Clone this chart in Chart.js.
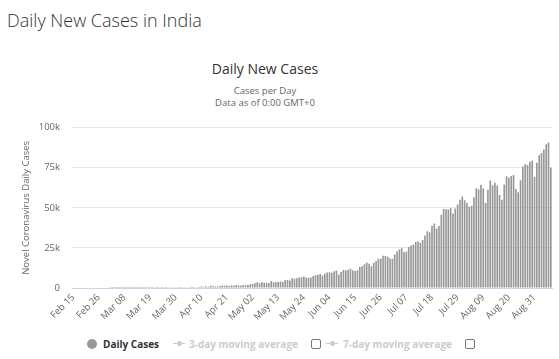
<!DOCTYPE html>
<html>
<head>
<meta charset="utf-8">
<script src="https://cdn.jsdelivr.net/npm/chart.js@4"></script>
<style>
  body { margin: 0; background: #fff; }
  #page { position: relative; width: 559px; height: 359px; overflow: hidden; font-family: 'Open Sans', sans-serif; }
  .abs { position: absolute; white-space: nowrap; }
  .lg { position: absolute; top: 337px; font-size: 10px; font-weight: bold; line-height: 14px; color: #ccc; }
  .box { position: absolute; top: 339px; width: 8px; height: 8px; border: 1px solid #777; border-radius: 2px; }
  .ico { position: absolute; top: 343px; width: 12px; height: 1px; background: #ccc; }
  .ico:after { content: ''; position: absolute; left: 4px; top: -2px; width: 5px; height: 5px; border-radius: 50%; background: #ccc; }
</style>
</head>
<body>
<div id="page">
  <div class="abs" style="left:7px;top:8px;font-size:18px;font-weight:300;line-height:24px;color:#333">Daily New Cases in India</div>
  <div class="abs" style="left:0;width:530px;top:60px;text-align:center;font-size:14px;line-height:18px;color:#333">Daily New Cases</div>
  <div class="abs" style="left:0;width:530px;top:85px;text-align:center;font-size:9.5px;line-height:12px;color:#666">Cases per Day<br>Data as of 0:00 GMT+0</div>
  <div class="abs" style="left:0;top:110px;width:559px;height:225px"><canvas id="chart"></canvas></div>

  <div class="abs" style="left:87px;top:339px;width:10px;height:10px;border-radius:50%;background:#999"></div>
  <div class="lg" style="left:103px;color:#333">Daily Cases</div>
  <div class="ico" style="left:173px"></div>
  <div class="lg" style="left:189px">3-day moving average</div>
  <div class="box" style="left:311px"></div>
  <div class="ico" style="left:326px"></div>
  <div class="lg" style="left:343px">7-day moving average</div>
  <div class="box" style="left:465px"></div>
</div>
<script>
// Feb 15 .. Mar 1: no cases
const febCases = [0,0,0,0,0,0,0,0,0,0,0,0,0,0,0,0];
const marCases = [2,1,23,2,1,3,5,4,12,11,6,9,20,11,6,23,14,38,50,86,66,103,37,121,70,160,100,106,227,146];
const aprCases = [601,545,478,525,505,704,508,485,591,896,768,918,796,1463,1076,1007,991,1224,1553,1336,1540,1290,1667,1408,1835,1607,1561,1873,1738,1801];
const mayCases = [2396,2564,2952,3656,2971,3602,3344,3339,3175,4311,3592,3562,3726,3991,3808,4794,5050,4628,6154,5720,6023,6536,6667,7111,6414,6387,6568,7468,8105,8336,8782];
const junCases = [7761,8821,9633,9847,9472,10408,10882,8442,9987,11156,11128,11320,12023,11027,10667,11088,13108,13586,14740,15918,15151,13560,15656,16868,18205,18255,20131,19906,19459,18339];
const julCases = [18256,20903,22721,24018,24850,22252,22560,25571,26506,27114,28637,29106,28178,29917,32682,35468,34820,38902,40243,37148,38740,45720,49310,49131,48893,49981,46484,49632,52123,55078,57118];
const augCases = [54735,52972,50629,51282,56626,62170,61537,64399,62117,53016,61252,67066,64142,65609,63986,57981,55018,64572,69672,68900,69878,70488,61749,59696,67151,75760,77266,76665,78761,79457,69239];
const sepCases = [78169,82860,84156,86432,89706,90802,75022];

const dailyCases = [].concat(febCases, marCases, aprCases, mayCases, junCases, julCases, augCases, sepCases);

const tickLabels = ['Feb 15','Feb 26','Mar 08','Mar 19','Mar 30','Apr 10','Apr 21','May 02','May 13','May 24',
                    'Jun 04','Jun 15','Jun 26','Jul 07','Jul 18','Jul 29','Aug 09','Aug 20','Aug 31'];
const yTicks = [0, 25000, 50000, 75000, 100000];

// one category per day, Feb 15 2020 onward
const months = ['Jan','Feb','Mar','Apr','May','Jun','Jul','Aug','Sep','Oct','Nov','Dec'];
const days = [];
for (let i = 0; i < dailyCases.length; i++) {
    const d = new Date(Date.UTC(2020, 1, 15 + i));
    days.push(months[d.getUTCMonth()] + ' ' + String(d.getUTCDate()).padStart(2, '0'));
}

const ctx = document.getElementById('chart').getContext('2d');
const myBarChart = new Chart(ctx, {
    type: 'bar',
    data: {
        labels: days,
        datasets: [{
            label: 'Daily Cases',
            data: dailyCases,
            backgroundColor: '#979797',
            barPercentage: 0.9,
            categoryPercentage: 0.78
        }]
    },
    options: {
        responsive: true,
        maintainAspectRatio: false,
        animation: false,
        layout: { padding: { right: 7 } },
        plugins: {
            legend: { display: false },
            tooltip: { enabled: false }
        },
        scales: {
            x: {
                grid: { display: false, drawTicks: false },
                border: { color: '#ccd6eb' },
                ticks: {
                    autoSkip: false,
                    maxRotation: 45,
                    minRotation: 45,
                    padding: 4,
                    color: '#666',
                    font: { family: 'Open Sans', size: 9.5 },
                    callback: function (v, i) {
                        return i % 11 === 0 ? tickLabels[i / 11] : null;
                    }
                },
                afterFit: function (s) { s.height = 47; }
            },
            y: {
                min: 0,
                max: 100000,
                afterBuildTicks: function (s) { s.ticks = yTicks.map(v => ({ value: v })); },
                grid: { color: '#e6e6e6', drawTicks: false },
                border: { display: false },
                ticks: {
                    padding: 12,
                    color: '#666',
                    font: { family: 'Open Sans', size: 9.5 },
                    callback: v => v === 0 ? '0' : (v / 1000) + 'k'
                },
                title: {
                    display: true,
                    text: 'Novel Coronavirus Daily Cases',
                    color: '#666',
                    font: { family: 'Open Sans', size: 9.5 },
                    padding: { top: 21, bottom: 0 }
                },
                afterFit: function (s) { s.width = 72; }
            }
        }
    }
});
</script>
</body>
</html>
